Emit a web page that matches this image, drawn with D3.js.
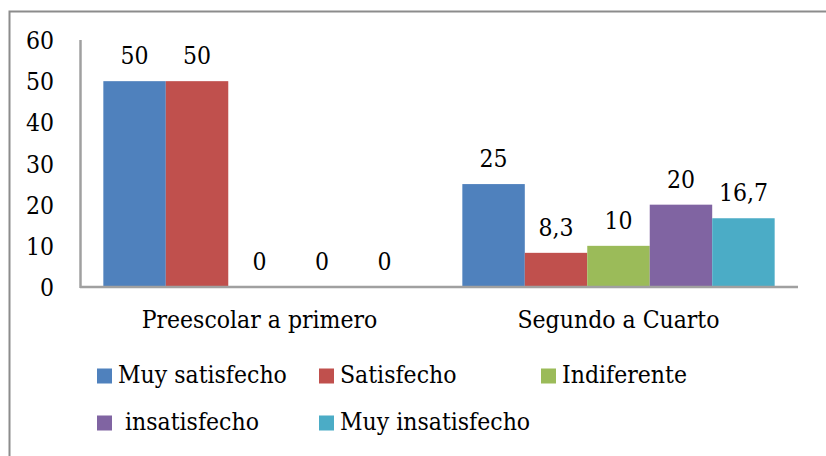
<!DOCTYPE html>
<html>
<head>
<meta charset="utf-8">
<script src="https://cdn.jsdelivr.net/npm/d3@7"></script>
<style>
    body { margin: 0; background: #fff; }
    text { font-family: "DejaVu Serif Condensed", "Liberation Serif", serif; font-stretch: condensed; fill: #000; }
</style>
</head>
<body>
<div id="chart"></div>
<script>
// categories and series
const categories = ['Preescolar a primero', 'Segundo a Cuarto'];
const seriesNames = ['Muy satisfecho', 'Satisfecho', 'Indiferente', ' insatisfecho', 'Muy insatisfecho'];
const seriesColors = ['#4f81bd', '#c0504d', '#9bbb59', '#8064a2', '#4bacc6'];
const preescolarValues = [50, 50, 0, 0, 0];
const segundoValues = [25, 8.3, 10, 20, 16.7];
const yTicks = [0, 10, 20, 30, 40, 50, 60];

function groupedBarChart() {
    let margin = {
            top: 40,
            left: 80,
            right: 28,
            bottom: 169
        },
        width = 826,
        height = 456,
        fontSize = 24.5;

    function chart(selector) {
        let svg = d3.select(selector)
            .append('svg')
            .attr('width', width)
            .attr('height', height);

        // frame (only top and left show in the picture)
        svg.append('path')
            .attr('d', `M9.5,${height} V11.5 H${width}`)
            .attr('fill', 'none')
            .attr('stroke', '#8c8c8c')
            .attr('stroke-width', 2);

        let table = categories.map((c, i) => ({
            category: c,
            values: [preescolarValues, segundoValues][i]
        }));

        let x0 = d3.scaleBand()
            .domain(categories)
            .range([margin.left, width - margin.right])
            .padding(0);

        let gap = x0.bandwidth() * 0.065;
        let x1 = d3.scaleBand()
            .domain(d3.range(seriesNames.length))
            .range([gap, x0.bandwidth() - gap])
            .padding(0);

        let yScale = d3.scaleLinear()
            .domain([0, 60])
            .range([height - margin.bottom, margin.top]);

        // y axis labels
        let yAxis = svg.append('g')
            .attr('transform', `translate(${margin.left},0)`)
            .call(d3.axisLeft(yScale).tickValues(yTicks).tickSize(0).tickPadding(26));
        yAxis.select('.domain').remove();
        yAxis.selectAll('text')
            .style('font-size', fontSize + 'px')
            .attr('font-family', null)
            .attr('dy', '0.35em');

        // bars
        let groups = svg.selectAll('g.group')
            .data(table).enter()
            .append('g')
            .attr('class', 'group')
            .attr('transform', d => `translate(${x0(d.category)},0)`);

        groups.selectAll('rect')
            .data(d => d.values.map((v, i) => ({ i: i, v: v })))
            .enter()
            .append('rect')
            .attr('fill', d => seriesColors[d.i])
            .attr('x', d => x1(d.i))
            .attr('y', d => yScale(d.v))
            .attr('width', x1.bandwidth())
            .attr('height', d => yScale(0) - yScale(d.v));

        groups.selectAll('text.value')
            .data(d => d.values.map((v, i) => ({ i: i, v: v })))
            .enter()
            .append('text')
            .attr('class', 'value')
            .attr('x', d => x1(d.i) + x1.bandwidth() / 2)
            .attr('y', d => yScale(d.v) - 17)
            .attr('text-anchor', 'middle')
            .style('font-size', fontSize + 'px')
            .text(d => String(d.v).replace('.', ','));

        // axis lines
        svg.append('line')
            .attr('x1', margin.left + 0.5).attr('x2', margin.left + 0.5)
            .attr('y1', margin.top).attr('y2', yScale(0) + 1)
            .attr('stroke', '#a0a0a0').attr('stroke-width', 2.5);
        svg.append('line')
            .attr('x1', margin.left).attr('x2', width - margin.right)
            .attr('y1', yScale(0)).attr('y2', yScale(0))
            .attr('stroke', '#a0a0a0').attr('stroke-width', 2.5);

        // category labels
        svg.selectAll('text.category')
            .data(categories).enter()
            .append('text')
            .attr('class', 'category')
            .attr('x', d => x0(d) + x0.bandwidth() / 2)
            .attr('y', 328)
            .attr('text-anchor', 'middle')
            .style('font-size', fontSize + 'px')
            .text(d => d);

        // legend, three per row (y is the text baseline)
        let colX = [97, 319, 541],
            rowY = [383, 430];
        let legend = svg.selectAll('g.legend')
            .data(seriesNames).enter()
            .append('g')
            .attr('class', 'legend')
            .attr('transform', (d, i) => `translate(${colX[i % 3]},${rowY[Math.floor(i / 3)]})`);
        legend.append('rect')
            .attr('x', 0).attr('y', -14.5)
            .attr('width', 15).attr('height', 15)
            .attr('fill', (d, i) => seriesColors[i]);
        legend.append('text')
            .attr('x', 21)
            .style('font-size', fontSize + 'px')
            .style('white-space', 'pre')
            .text(d => d);

        return chart;
    }

    return chart;
}

groupedBarChart()('#chart');
</script>
</body>
</html>
